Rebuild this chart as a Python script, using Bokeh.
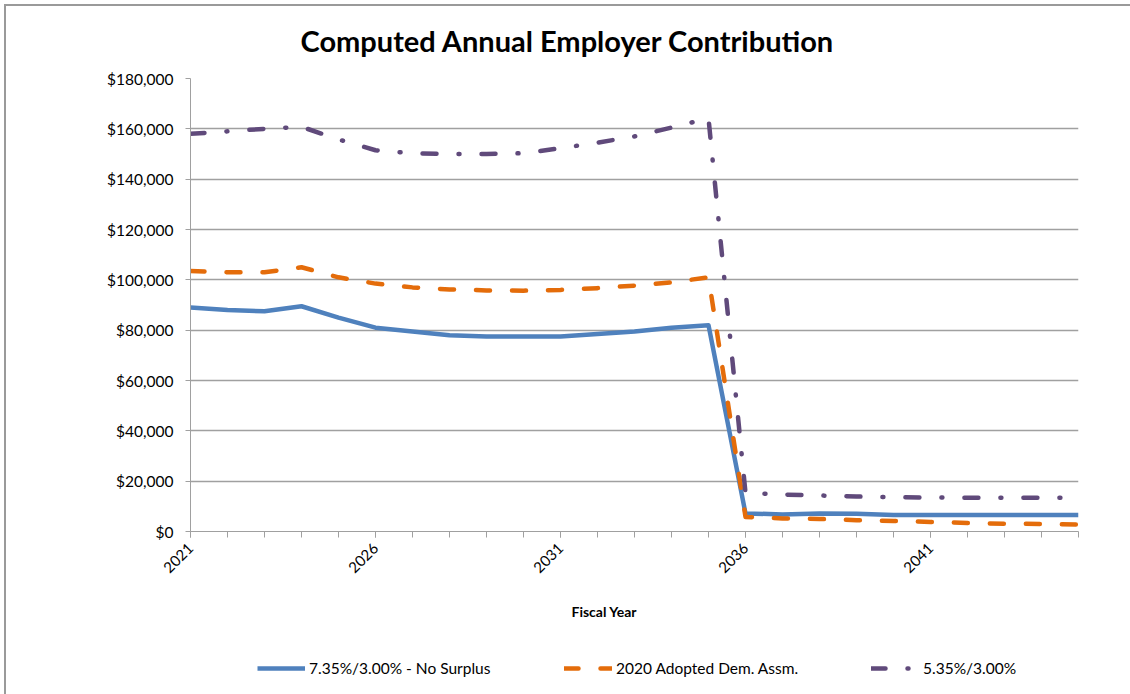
import math
from bokeh.plotting import figure
from bokeh.layouts import column
from bokeh.models import (Range1d, FixedTicker, NumeralTickFormatter, Legend,
                          LegendItem, Title)
from bokeh.embed import file_html
from bokeh.resources import INLINE

# ---------------- data ----------------
years = [2021, 2022, 2023, 2024, 2025, 2026, 2027, 2028, 2029, 2030, 2031, 2032,
         2033, 2034, 2035, 2036, 2037, 2038, 2039, 2040, 2041, 2042, 2043, 2044, 2045]
no_surplus = [89000, 88000, 87500, 89500, 85000, 81000, 79500, 78000, 77500, 77500,
              77500, 78500, 79500, 81000, 82000, 7200, 6800, 7200, 7100, 6600,
              6600, 6600, 6600, 6600, 6600]
adopted_2020 = [103500, 103000, 103000, 105000, 101000, 98500, 97000, 96200, 95800, 95700,
                96000, 96700, 97700, 99000, 101000, 5800, 5200, 5000, 4500, 4200,
                3800, 3400, 3100, 3000, 2800]
rate_535 = [158000, 159000, 160000, 160800, 155800, 151500, 150300, 150000, 150000, 150300,
            152300, 154500, 157000, 160500, 164200, 15300, 14700, 14300, 13900, 13600,
            13500, 13400, 13400, 13400, 13400]
series_names = ["7.35%/3.00% - No Surplus", "2020 Adopted Dem. Assm.", "5.35%/3.00%"]
x_tick_labels = [2021, 2026, 2031, 2036, 2041]
y_ticks = [0, 20000, 40000, 60000, 80000, 100000, 120000, 140000, 160000, 180000]
title_text = "Computed Annual Employer Contribution"
x_label = "Fiscal Year"

FONT = "Lato"
GRID = "#a0a0a0"
EDGE = "#9a9a9a"
styles = [
    dict(line_color="#4f81bd", line_width=4.5, line_join="round"),
    dict(line_color="#e46c0a", line_width=4.5, line_cap="round", line_join="round",
         line_dash="14 22"),
    dict(line_color="#604a7b", line_width=4.5, line_cap="round", line_join="round",
         line_dash="14 22 1 22"),
]

# ---------------- main chart ----------------
p = figure(width=1130, height=646, output_backend="svg", toolbar_location=None,
           x_range=Range1d(2021, 2045), y_range=Range1d(0, 180000),
           min_border_left=190, min_border_right=52, min_border_top=78,
           min_border_bottom=115, title=None)
p.outline_line_color = None
p.background_fill_color = "white"
p.border_fill_alpha = 0
p.styles = {
    "background": (f"linear-gradient({EDGE},{EDGE}) 4px 4px / 1126px 2px no-repeat, "
                   f"linear-gradient({EDGE},{EDGE}) 4px 4px / 2px 646px no-repeat, white")
}

for vals, st in zip([no_surplus, adopted_2020, rate_535], styles):
    p.line(years, vals, **st)

p.add_layout(Title(text=title_text, align="left", offset=110, standoff=41,
                   text_font=FONT, text_font_style="bold", text_font_size="29px",
                   text_color="black"), "above")

p.xaxis.ticker = FixedTicker(ticks=x_tick_labels, minor_ticks=years)
p.xaxis.major_label_orientation = math.pi / 4
p.xaxis.major_label_text_font = FONT
p.xaxis.major_label_text_font_size = "15px"
p.xaxis.major_label_text_color = "black"
p.xaxis.axis_line_color = GRID
p.xaxis.major_tick_line_color = GRID
p.xaxis.minor_tick_line_color = GRID
p.xaxis.major_tick_out = 6
p.xaxis.major_tick_in = 0
p.xaxis.minor_tick_out = 6
p.xaxis.minor_tick_in = 0
p.xaxis.major_label_standoff = 8

# x-axis title, placed left of the frame centre as in the original
p.add_layout(Title(text=x_label, align="left", offset=381, vertical_align="top",
                   standoff=44, text_font=FONT, text_font_style="bold",
                   text_font_size="14px", text_color="black"), "below")

p.yaxis.ticker = FixedTicker(ticks=y_ticks, minor_ticks=[])
p.yaxis.formatter = NumeralTickFormatter(format="$0,0")
p.yaxis.major_label_text_font = FONT
p.yaxis.major_label_text_font_size = "15.5px"
p.yaxis.major_label_text_color = "black"
p.yaxis.axis_line_color = GRID
p.yaxis.major_tick_line_color = GRID
p.yaxis.major_tick_out = 5
p.yaxis.major_tick_in = 0
p.yaxis.major_label_standoff = 12

p.xgrid.grid_line_color = None
p.ygrid.grid_line_color = GRID
p.ygrid.grid_line_width = 1.3
p.ygrid.ticker = FixedTicker(ticks=y_ticks)

# ---------------- legend strip (frame is aligned with the chart's frame) ----------------
q = figure(width=1130, height=48, output_backend="svg", toolbar_location=None,
           x_range=Range1d(0, 888), y_range=Range1d(0, 48), min_border=0, title=None)
q.outline_line_color = None
q.axis.visible = False
q.grid.grid_line_color = None
q.border_fill_alpha = 0
q.background_fill_alpha = 0
q.styles = {
    "background": (f"linear-gradient({EDGE},{EDGE}) 4px 0px / 2px 48px no-repeat, white")
}
# legend-only renderers, placed outside the visible range
dummies = [q.line([-50, -40], [-50, -50], **st) for st in styles]
legend = Legend(items=[LegendItem(label=n, renderers=[r]) for n, r in
                       zip(series_names, dummies)],
                location=(67, 16), orientation="horizontal",
                glyph_width=48, glyph_height=20, label_standoff=4, label_width=200,
                spacing=55, padding=0, margin=0,
                border_line_alpha=0, background_fill_alpha=0,
                label_text_font=FONT, label_text_font_size="15.5px",
                label_text_color="black")
q.add_layout(legend, "center")

open("out.html", "w").write(file_html(column(p, q, spacing=0), INLINE))
